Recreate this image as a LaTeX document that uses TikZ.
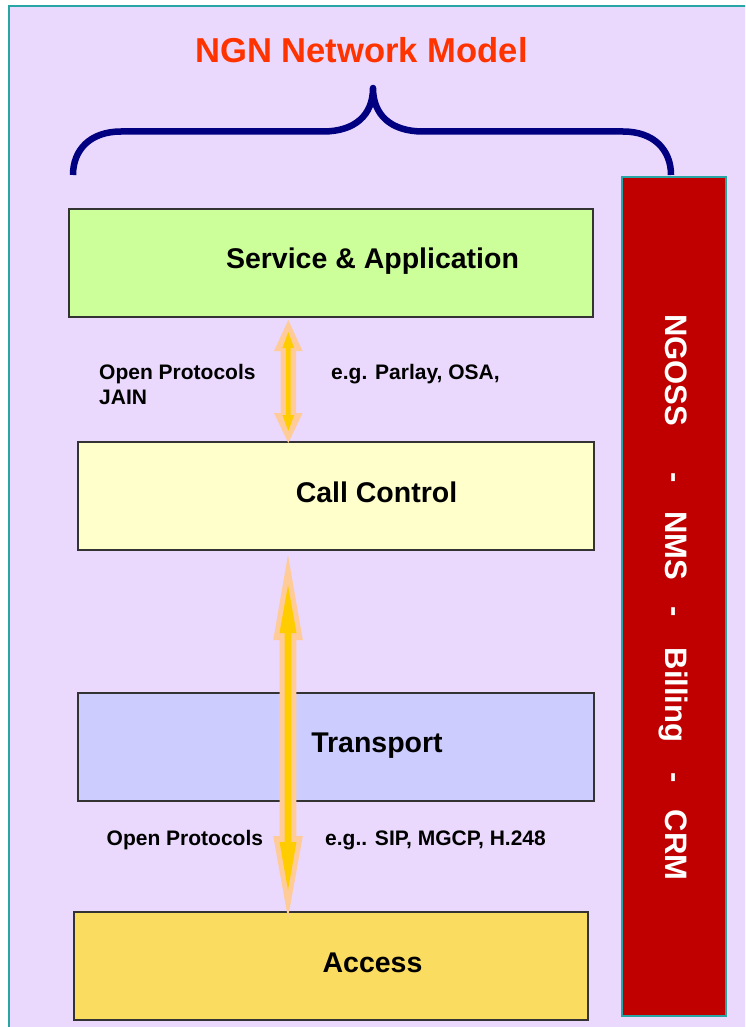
\documentclass[tikz,border=0pt]{standalone}
\usepackage{fontspec}
\setmainfont{Liberation Sans}
\definecolor{bgl}{RGB}{234,217,252}
\definecolor{frameteal}{RGB}{40,165,165}
\definecolor{titlered}{RGB}{255,51,0}
\definecolor{bracenavy}{RGB}{0,0,128}
\definecolor{svcgreen}{RGB}{204,255,153}
\definecolor{ccyellow}{RGB}{255,255,204}
\definecolor{trblue}{RGB}{204,204,255}
\definecolor{accgold}{RGB}{250,221,96}
\definecolor{mgmtred}{RGB}{192,0,0}
\definecolor{arrowgold}{RGB}{255,204,0}
\definecolor{arrowpeach}{RGB}{255,204,153}
\definecolor{boxedge}{RGB}{51,51,51}
\begin{document}
\begin{tikzpicture}[x=1pt,y=-1pt,
  layerbox/.style={draw=boxedge, line width=1.5pt, rectangle, inner sep=0pt, minimum height=108pt},
  layerlabel/.style={font=\fontsize{28.5}{34}\selectfont\bfseries, anchor=base, inner sep=0pt},
  protolabel/.style={font=\fontsize{21}{25}\selectfont\bfseries, anchor=base west, inner sep=0pt},
  mgmtlabel/.style={font=\fontsize{31}{36}\selectfont\bfseries, text=white, rotate=-90, anchor=mid, inner sep=0pt},
  outerarrow/.style={fill=arrowpeach},
  innerarrow/.style={fill=arrowgold}]
\clip (0,0) rectangle (745,1027);
\fill[white] (0,0) rectangle (745,1027);
\draw[fill=bgl, draw=frameteal, line width=2pt] (9,6) rectangle (770,1040);

% title
\node[font=\fontsize{34.6}{40}\selectfont\bfseries, text=titlered, anchor=base, inner sep=0pt] (title) at (361.5,63) {NGN Network Model};

% brace
\draw[bracenavy, line width=6.5pt, line join=round]
  (73,175) .. controls (73,150) and (90,131.5) .. (121,131.5) -- (323,131.5)
  .. controls (355,131.5) and (373,115) .. (373,88)
  .. controls (373,115) and (391,131.5) .. (423,131.5) -- (623,131.5)
  .. controls (654,131.5) and (671,150) .. (671,175);

% layer boxes
\node[layerbox, fill=svcgreen, minimum width=524pt] (svc) at (331,263) {};
\node[layerbox, fill=ccyellow, minimum width=516pt] (cc) at (336,496) {};
\node[layerbox, fill=trblue, minimum width=516pt] (tr) at (336,747) {};
\node[layerbox, fill=accgold, minimum width=514pt] (acc) at (331,966) {};
\node[layerlabel] (svcl) at (372.5,268) {Service \& Application};
\node[layerlabel] (ccl) at (376.5,502) {Call Control};
\node[layerlabel] (trl) at (377,752) {Transport};
\node[layerlabel] (accl) at (372.5,972) {Access};

% management column
\node[rectangle, draw=frameteal, line width=2pt, fill=mgmtred, minimum width=104pt, minimum height=839pt, inner sep=0pt] (mgmt) at (674,596.5) {};
\node[mgmtlabel] (m1) at (668,370) {NGOSS};
\node[mgmtlabel] (d1) at (668,478) {-};
\node[mgmtlabel] (m2) at (668,546) {NMS};
\node[mgmtlabel] (d2) at (668,612) {-};
\node[mgmtlabel] (m3) at (668,695) {Billing};
\node[mgmtlabel] (d3) at (668,778) {-};
\node[mgmtlabel] (m4) at (668,845) {CRM};

% short arrow (service <-> call control)
\fill[outerarrow] (288.3,320) -- (302.6,351) -- (296,351) -- (296,413) -- (302.6,413) -- (288.3,443)
  -- (274,413) -- (280.6,413) -- (280.6,351) -- (274,351) -- cycle;
\fill[innerarrow] (288.3,332) -- (294.2,348) -- (290.7,348) -- (290.7,415) -- (294.2,415) -- (288.3,431)
  -- (282.4,415) -- (285.9,415) -- (285.9,348) -- (282.4,348) -- cycle;

% long arrow (call control <-> access)
\fill[outerarrow] (288,555) -- (302.8,640) -- (296.3,640) -- (296.3,836) -- (302.8,836) -- (288,918)
  -- (273.2,836) -- (279.7,836) -- (279.7,640) -- (273.2,640) -- cycle;
\fill[innerarrow] (288,585) -- (296.5,633) -- (291.3,633) -- (291.3,842) -- (296.5,842) -- (288,890)
  -- (279.5,842) -- (284.7,842) -- (284.7,633) -- (279.5,633) -- cycle;

% protocol labels
\node[protolabel] (op1) at (99,379) {Open Protocols};
\node[protolabel] (jain) at (99,404) {JAIN};
\node[protolabel] (eg1) at (331,379) {e.g. Parlay, OSA,};
\node[protolabel] (op2) at (106.5,845) {Open Protocols};
\node[protolabel] (eg2) at (325,845) {e.g.. SIP, MGCP, H.248};
\end{tikzpicture}
\end{document}
